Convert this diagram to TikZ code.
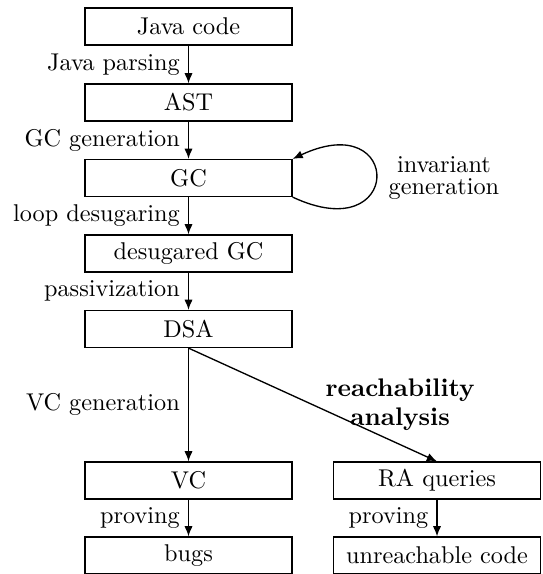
\documentclass[tikz,border=0pt]{standalone}
\usetikzlibrary{arrows.meta}
\begin{document}
\begin{tikzpicture}[x=0.4124pt,y=-0.4124pt,line width=0.55pt,
  box/.style={draw,rectangle,minimum width=85.3pt,minimum height=15.2pt,inner sep=0pt},
  arr/.style={-{Latex[length=4.2pt,width=3.4pt]}},
  lbl/.style={left,inner sep=3.33pt}]
\useasboundingbox (0,0) rectangle (542,574);
\node[box] (java) at (188.5,26.5) {Java code};
\node[box] (ast) at (188.5,102.5) {AST};
\node[box] (gc) at (188.5,178) {GC};
\node[box] (dgc) at (188.5,253.5) {desugared GC};
\node[box] (dsa) at (188.5,329) {DSA};
\node[box] (vc) at (188.5,480.5) {VC};
\node[box] (bugs) at (188.5,555.5) {bugs};
\node[box] (ra) at (437,480.5) {RA queries};
\node[box] (unr) at (437,555.5) {unreachable code};

\draw[arr] (java) -- node[lbl] {Java parsing} (ast);
\draw[arr] (ast) -- node[lbl] {GC generation} (gc);
\draw[arr] (gc) -- node[lbl] {loop desugaring} (dgc);
\draw[arr] (dgc) -- node[lbl] {passivization} (dsa);
\draw[arr] (dsa) -- node[lbl] {VC generation} (vc);
\draw[arr] (vc) -- node[lbl] {proving} (bugs);
\draw[arr] (ra) -- node[lbl] {proving} (unr);
\draw[arr] (dsa.south) -- node[right,align=center,inner sep=5pt,font={\fontsize{10.5}{12}\selectfont\bfseries}] {reachability\\analysis} (ra.north);
\draw[arr] (gc.south east) .. controls +(111,52) and +(111,-52) .. node[right,align=center,inner sep=5pt,font={\fontsize{10}{9}\selectfont}] {invariant\\generation} (gc.north east);
\end{tikzpicture}
\end{document}
